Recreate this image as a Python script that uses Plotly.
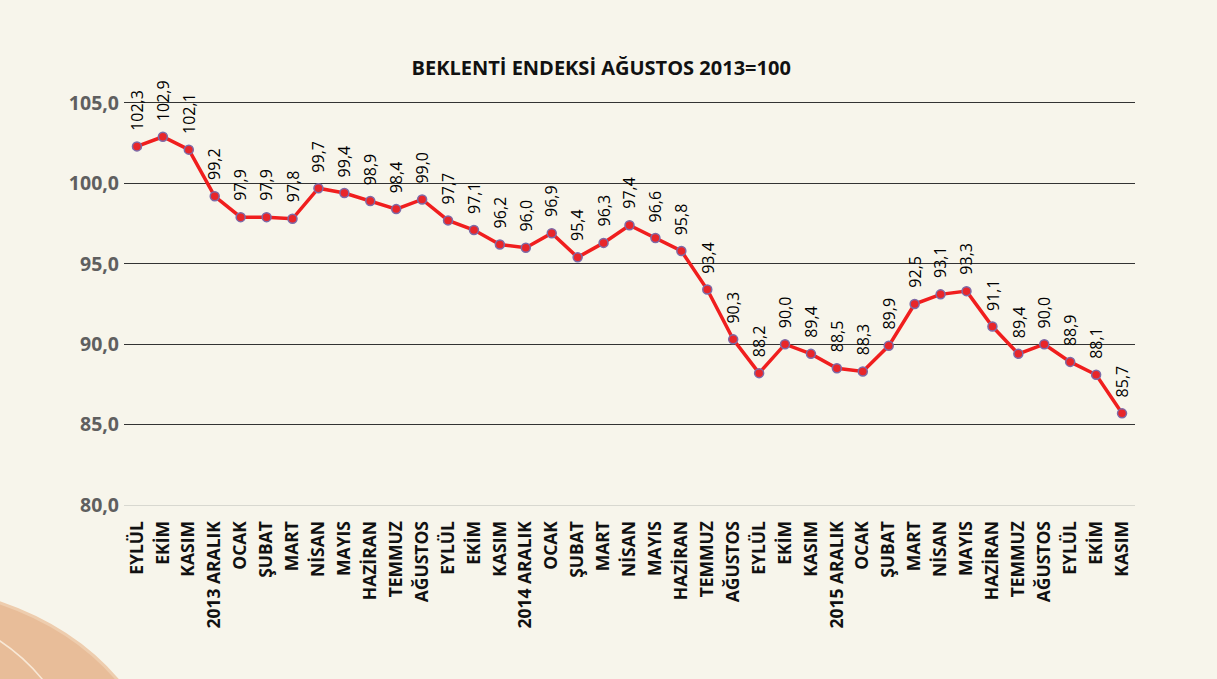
import plotly.graph_objects as go

title_text = "BEKLENTİ ENDEKSİ AĞUSTOS 2013=100"

categories = [
    "EYLÜL", "EKİM", "KASIM", "2013 ARALIK", "OCAK", "ŞUBAT", "MART", "NİSAN",
    "MAYIS", "HAZİRAN", "TEMMUZ", "AĞUSTOS", "EYLÜL", "EKİM", "KASIM",
    "2014 ARALIK", "OCAK", "ŞUBAT", "MART", "NİSAN", "MAYIS", "HAZİRAN",
    "TEMMUZ", "AĞUSTOS", "EYLÜL", "EKİM", "KASIM", "2015 ARALIK", "OCAK",
    "ŞUBAT", "MART", "NİSAN", "MAYIS", "HAZİRAN", "TEMMUZ", "AĞUSTOS",
    "EYLÜL", "EKİM", "KASIM",
]

values = [
    102.3, 102.9, 102.1, 99.2, 97.9, 97.9, 97.8, 99.7, 99.4, 98.9, 98.4, 99.0,
    97.7, 97.1, 96.2, 96.0, 96.9, 95.4, 96.3, 97.4, 96.6, 95.8, 93.4, 90.3,
    88.2, 90.0, 89.4, 88.5, 88.3, 89.9, 92.5, 93.1, 93.3, 91.1, 89.4, 90.0,
    88.9, 88.1, 85.7,
]

y_ticks = [80, 85, 90, 95, 100, 105]
y_tick_labels = ["80,0", "85,0", "90,0", "95,0", "100,0", "105,0"]

x_idx = list(range(len(categories)))

fig = go.Figure()

fig.add_trace(go.Scatter(
    x=x_idx, y=values, mode="lines+markers",
    line=dict(color="#F01E1E", width=3.5),
    marker=dict(size=9, color="#E8262A", line=dict(color="#7D6BA8", width=1.5)),
    hoverinfo="skip", showlegend=False, cliponaxis=False,
))

for xi, v in zip(x_idx, values):
    fig.add_annotation(
        x=xi, y=v, xref="x", yref="y",
        text=f"{v:.1f}".replace(".", ","),
        textangle=-90, showarrow=False,
        xanchor="center", yanchor="bottom", yshift=14,
        font=dict(family="Open Sans", size=16, color="#000000"),
    )

# decorative swoosh in the bottom-left corner
fig.add_shape(
    type="path", xref="paper", yref="paper", layer="below",
    path="M -0.13 -0.236 Q -0.05 -0.30 -0.004 -0.44 L -0.13 -0.44 Z",
    fillcolor="#E8BD99", line=dict(color="#EECDAE", width=3),
)
fig.add_shape(
    type="path", xref="paper", yref="paper", layer="below",
    path="M -0.13 -0.325 Q -0.10 -0.37 -0.078 -0.44",
    line=dict(color="#F8E8D6", width=1.5),
)

fig.update_layout(
    width=1217, height=679,
    paper_bgcolor="#F7F5EB", plot_bgcolor="rgba(0,0,0,0)",
    margin=dict(l=124, r=82, t=101, b=174, pad=0),
    title=dict(
        text=title_text, x=0.494, xanchor="center", y=0.9, yanchor="middle",
        font=dict(family="Open Sans", size=20, color="#111111", weight="bold"),
    ),
    xaxis=dict(
        range=[-0.5, len(categories) - 0.5],
        tickmode="array", tickvals=x_idx, ticktext=categories,
        tickangle=-90, showgrid=False, zeroline=False,
        showline=True, linecolor="#D8D8D0", linewidth=1,
        ticks="", ticklabelstandoff=8,
        tickfont=dict(family="Open Sans", size=17.5, color="#111111", weight="bold"),
    ),
    yaxis=dict(
        range=[80, 105.124],
        tickmode="array", tickvals=y_ticks, ticktext=y_tick_labels,
        showgrid=True, gridcolor="#333333", gridwidth=1,
        zeroline=False, showline=False, ticks="", ticklabelstandoff=4,
        tickfont=dict(family="Open Sans", size=19.5, color="#5F5F5F", weight="bold"),
    ),
)

fig.write_html(
    "out.html",
    config={"displayModeBar": False},
    post_script="document.body.style.margin='0';document.body.style.background='#F7F5EB';",
)
